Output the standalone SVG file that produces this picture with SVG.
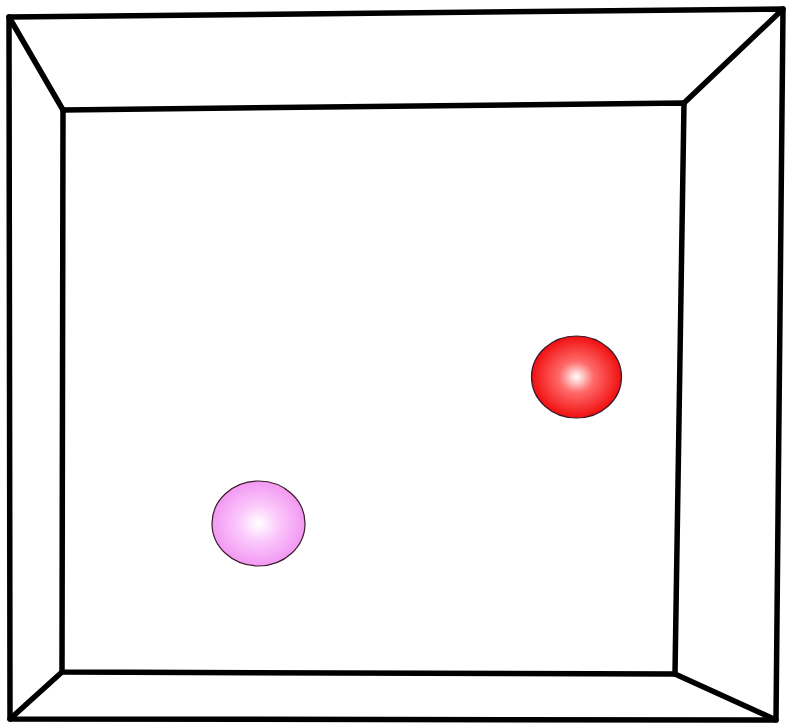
<svg xmlns="http://www.w3.org/2000/svg" width="786" height="723" viewBox="0 0 786 723">
<defs>
<style>
.edge{fill:none;stroke:#000;stroke-width:5.5;stroke-linejoin:round;stroke-linecap:round}
.ball{stroke:#3a1a2a;stroke-width:1.2}
</style>
<radialGradient id="gRed" cx="0.5" cy="0.5" r="0.55">
<stop offset="0" stop-color="#ffffff"/>
<stop offset="0.35" stop-color="#ff6a6a"/>
<stop offset="1" stop-color="#ee0000"/>
</radialGradient>
<radialGradient id="gPink" cx="0.5" cy="0.5" r="0.55">
<stop offset="0" stop-color="#ffffff"/>
<stop offset="0.4" stop-color="#fbc8fb"/>
<stop offset="1" stop-color="#f090f0"/>
</radialGradient>
</defs>
<rect width="786" height="723" fill="#fff"/>
<g id="box">
<polygon class="edge" points="9,17 783,9 776,720 10,719"/>
<polygon class="edge" points="63,110 684,103 675,674 62,672"/>
<line class="edge" x1="9" y1="17" x2="63" y2="110"/>
<line class="edge" x1="783" y1="9" x2="684" y2="103"/>
<line class="edge" x1="776" y1="720" x2="675" y2="674"/>
<line class="edge" x1="10" y1="719" x2="62" y2="672"/>
</g>
<g id="red-ball"><ellipse class="ball" cx="576.5" cy="377" rx="45" ry="41" fill="url(#gRed)"/></g>
<g id="pink-ball"><ellipse class="ball" cx="258.5" cy="523.5" rx="46.5" ry="42.5" fill="url(#gPink)"/></g>
</svg>
